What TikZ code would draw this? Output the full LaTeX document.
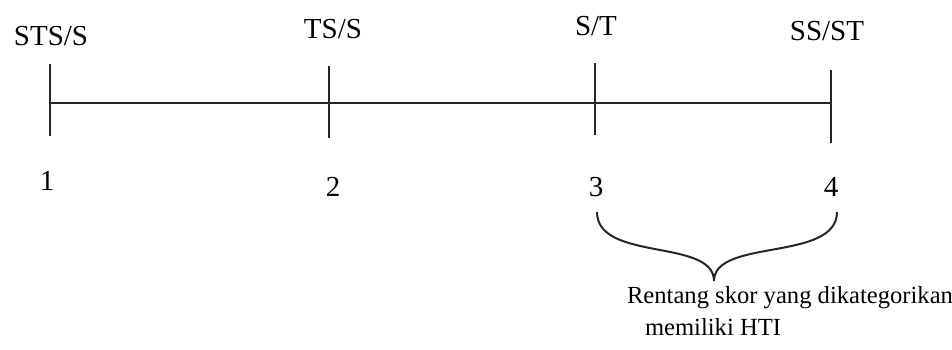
\documentclass[tikz,border=0pt]{standalone}
\usepackage{fontspec}
\setmainfont{Liberation Serif}
\begin{document}
\begin{tikzpicture}[x=0.5pt,y=-0.5pt,
  axis/.style={line width=1pt,draw=black!85},
  lbl/.style={inner sep=0pt,font=\fontsize{14.5}{17}\selectfont},
  captxt/.style={inner sep=0pt,font=\fontsize{12.3}{14}\selectfont},
  brc/.style={line width=1pt,draw=black!85}]
\useasboundingbox (0,0) rectangle (952,349);
% tick coordinates
\coordinate (a1) at (50,103);
\coordinate (a2) at (329,103);
\coordinate (a3) at (595,103);
\coordinate (a4) at (831,103);
\coordinate (a1t) at (50,64);  \coordinate (a1b) at (50,136);
\coordinate (a2t) at (329,66); \coordinate (a2b) at (329,138);
\coordinate (a3t) at (595,63); \coordinate (a3b) at (595,135);
\coordinate (a4t) at (831,70); \coordinate (a4b) at (831,143);
\draw[axis] (a1) -- (a4);
\draw[axis] (a1t) -- (a1b);
\draw[axis] (a2t) -- (a2b);
\draw[axis] (a3t) -- (a3b);
\draw[axis] (a4t) -- (a4b);
% top labels
\node[lbl] (l1) at (51,36) {STS/S};
\node[lbl] (l2) at (333,29) {TS/S};
\node[lbl] (l3) at (596,26) {S/T};
\node[lbl] (l4) at (827,31) {SS/ST};
% numbers
\node[lbl] (n1) at (47,181) {1};
\node[lbl] (n2) at (333,187) {2};
\node[lbl] (n3) at (596,187) {3};
\node[lbl] (n4) at (831,187) {4};
% brace
\coordinate (bl) at (597,212);
\coordinate (br) at (837,212);
\coordinate (bt) at (714,281);
\draw[brc] (bl) .. controls (597,262) and (714,238) .. (bt)
           .. controls (714,238) and (837,262) .. (br);
\node[captxt] (cap1) at (790,298) {Rentang skor yang dikategorikan};
\node[captxt] (cap2) at (713,327) {memiliki HTI};
\end{tikzpicture}
\end{document}
